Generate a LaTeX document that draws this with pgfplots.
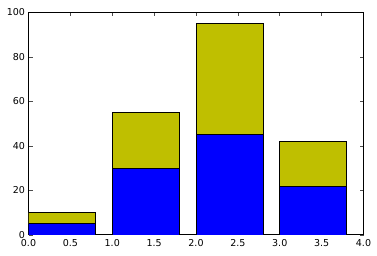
\documentclass[border=0pt]{standalone}
\usepackage{fontspec}
\setmainfont{DejaVu Sans}
\usepackage{pgfplots}
\pgfplotsset{compat=1.18}
\definecolor{mplyellow}{rgb}{0.75,0.75,0}
\begin{document}
\begin{tikzpicture}
\begin{axis}[
  scale only axis, width=335pt, height=222.5pt,
  xmin=0, xmax=4, ymin=0, ymax=100,
  ybar stacked, bar width=0.8, bar shift=0.4,
  xtick={0,0.5,...,4}, ytick={0,20,...,100},
  xticklabel style={/pgf/number format/fixed,/pgf/number format/fixed zerofill,/pgf/number format/precision=1,yshift=-1pt},
  yticklabel style={/pgf/number format/fixed,/pgf/number format/precision=0},
  tick align=inside, tick pos=both, major tick length=4pt,
  tick style={black!70, line width=0.6pt},
  axis line style={black, line width=1pt},
  every tick label/.append style={font=\fontsize{9.5}{10}\selectfont},
  /pgf/number format/assume math mode=true,
]
\addplot[fill=blue, draw=black, line width=0.9pt] coordinates {(0,5) (1,30) (2,45) (3,22)};
\addplot[fill=mplyellow, draw=black, line width=0.9pt] coordinates {(0,5) (1,25) (2,50) (3,20)};
\end{axis}
\pgfresetboundingbox
\path ([xshift=-28.5pt,yshift=-21pt]current axis.south west) rectangle ([xshift=13.5pt,yshift=12.5pt]current axis.north east);
\end{tikzpicture}
\end{document}
